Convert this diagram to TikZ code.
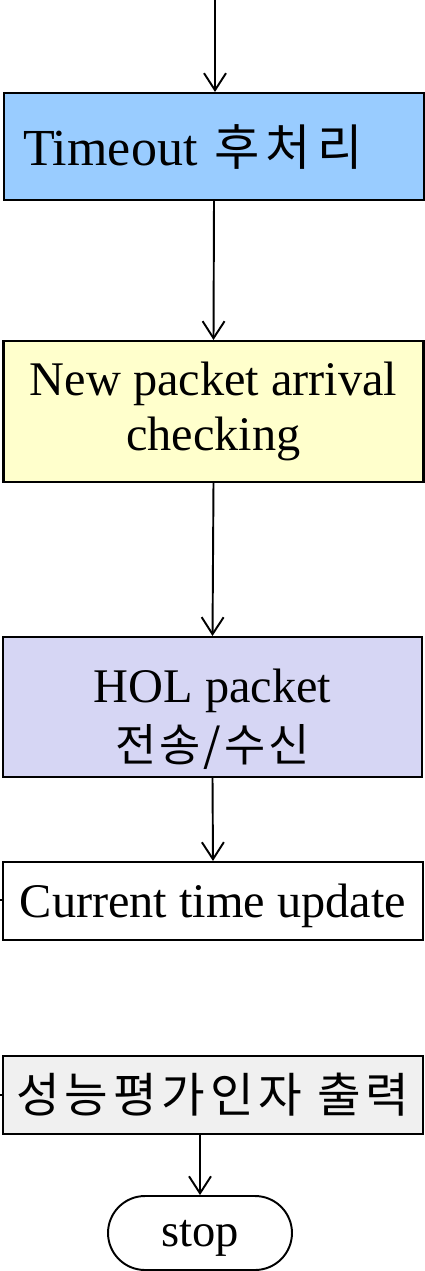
\documentclass[tikz,border=0pt]{standalone}
\usepackage{fontspec}
\setmainfont{Liberation Serif}
\newfontfamily\kr{Noto Sans CJK KR}
\usetikzlibrary{arrows.meta}
\definecolor{tblue}{HTML}{99CCFF}
\definecolor{nyellow}{HTML}{FFFFCC}
\definecolor{hlav}{HTML}{D6D6F4}
\definecolor{pgray}{HTML}{F0F0F0}

\begin{document}
\begin{tikzpicture}[x=0.02cm,y=-0.02cm,>={Straight Barb[length=0.34cm,width=0.44cm]},
    box/.style={draw,line width=1.2pt,inner sep=0pt,align=center,
        minimum width=8.4cm,font=\fontsize{27.5}{31.5}\selectfont},
    flow/.style={->,line width=1.1pt}]
    \useasboundingbox (0,0) rectangle (424,1271);
    \node[box,fill=tblue,minimum height=2.14cm,align=left,
        text width=7.64cm,inner xsep=0.36cm,font=\fontsize{29.6}{34}\selectfont]
        (tout) at (214,146.5)
        {Timeout {\kr\addfontfeature{LetterSpace=12}\fontsize{28}{30}\selectfont 후처리}};
    \node[box,fill=nyellow,minimum height=2.82cm] (newp) at (213.5,411.5)
        {New packet arrival\\checking};
    \node[box,fill=hlav,minimum height=2.8cm,minimum width=8.38cm] (hol) at (212.5,707) {};
    \node[align=center,inner sep=0pt,font=\fontsize{27.5}{31.5}\selectfont]
        (holtxt) at (212.5,719)
        {HOL packet\\[2pt]{\kr\addfontfeature{LetterSpace=7}\fontsize{25.5}{30}\selectfont 전송/수신}};
    \node[box,minimum height=1.56cm,text depth=0pt] (cur) at (213,901) {Current time update};
    \node[box,fill=pgray,minimum height=1.56cm,
        font=\kr\addfontfeature{LetterSpace=10}\fontsize{27}{30}\selectfont]
        (perf) at (213,1095) {성능평가인자 출력};
    \node[draw,line width=1.1pt,rounded corners=0.74cm,minimum width=3.68cm,
        minimum height=1.48cm,text depth=0pt,font=\fontsize{26.5}{30}\selectfont]
        (stop) at (200,1233) {stop};
    \coordinate (in0) at (215,0);
    \coordinate (in1) at (0,900);
    \coordinate (in2) at (0,1095);
    \draw[flow] (in0) -- (tout.north -| in0);
    \foreach \a/\b in {tout/newp,newp/hol,hol/cur}
    {
        \draw[flow] (\a.south) -- (\b.north);
    }
    \draw[flow] (perf.south -| stop.north) -- (stop.north);
    \draw[line width=1.1pt] (in1) -- (in1 -| cur.west);
    \draw[line width=1.1pt] (in2) -- (in2 -| perf.west);
\end{tikzpicture}
\end{document}
